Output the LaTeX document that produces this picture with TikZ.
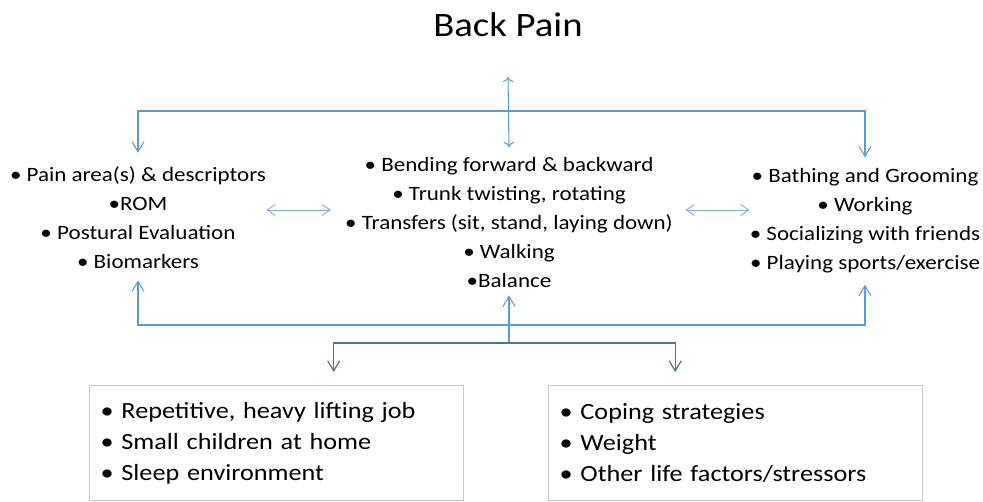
\documentclass[tikz,border=0pt]{standalone}
\usepackage{fontspec}
\setmainfont{Carlito}[FakeStretch=1.13]
\usetikzlibrary{positioning,calc,arrows.meta}

\definecolor{linkblue}{RGB}{91,155,213}
\definecolor{paleblue}{RGB}{125,172,212}
\definecolor{steelblue}{RGB}{68,118,163}
\definecolor{boxgray}{RGB}{196,202,202}

\tikzset{
  listtext/.style={align=center, inner sep=0pt, font=\fontsize{11.6}{16.5}\selectfont},
  factorbox/.style={draw=boxgray, line width=0.8pt, align=left, anchor=north west,
    minimum width=74.8mm, minimum height=23mm, text width=70.4mm, inner xsep=2.2mm,
    font=\fontsize{13.2}{17.6}\selectfont},
  link/.style={linkblue, line width=0.6pt, -{Straight Barb[length=2mm,width=2.4mm]}},
  twoway/.style={paleblue, line width=0.5pt, {Straight Barb[length=1.6mm,width=2.2mm]}-{Straight Barb[length=1.6mm,width=2.2mm]}},
  branch/.style={steelblue, line width=0.7pt, -{Straight Barb[length=2mm,width=2.4mm]}}
}

\begin{document}
\begin{tikzpicture}[x=0.2mm,y=-0.2mm]
    \useasboundingbox (0,0) rectangle (983,501);

    \node (title) at (508,25) {\fontsize{19.5}{23}\selectfont Back Pain};

    \node[listtext] (assess) at (138,218) {• Pain area(s) \& descriptors\\•ROM\\• Postural Evaluation\\• Biomarkers};
    \node[listtext] (func) at (509,222) {• Bending forward \& backward\\• Trunk twisting, rotating\\• Transfers (sit, stand, laying down)\\• Walking\\•Balance};
    \node[listtext] (adl) at (865,221) {• Bathing and Grooming\\• Working\\• Socializing with friends\\• Playing sports/exercise};

    \node[factorbox] (occup) at (89,385) {• Repetitive, heavy lifting job\\• Small children at home\\• Sleep environment};
    \node[factorbox] (psych) at (548,385) {• Coping strategies\\• Weight\\• Other life factors/stressors};

    % wiring
    \coordinate (split) at (509,111);
    \coordinate (join) at (509,325);
    \coordinate (fork) at (509,343);

    \draw[link, <->] (title.south |- 0,77) -- (func.north |- 0,147);
    \draw[link] (split) -| ([yshift=2.8mm]assess.north);
    \draw[link] (split) -| ([yshift=2.2mm]adl.north);
    \draw[link] (join) -| ([yshift=-2.2mm]assess.south);
    \draw[link] (join) -| ([yshift=-2.2mm]adl.south);
    \draw[link] (fork) -- ([yshift=-1.6mm]func.south);

    \draw[twoway, shorten >=2.8mm] (assess.east |- 0,210) -- (func.west |- 0,210);
    \draw[twoway, shorten <=2.5mm] (func.east |- 0,210) -- (adl.west |- 0,210);

    \draw[branch] (fork) -| ([xshift=11.4mm,yshift=2.6mm]occup.north);
    \draw[branch] (fork) -| ([xshift=-12.1mm,yshift=2.6mm]psych.north);
\end{tikzpicture}
\end{document}
